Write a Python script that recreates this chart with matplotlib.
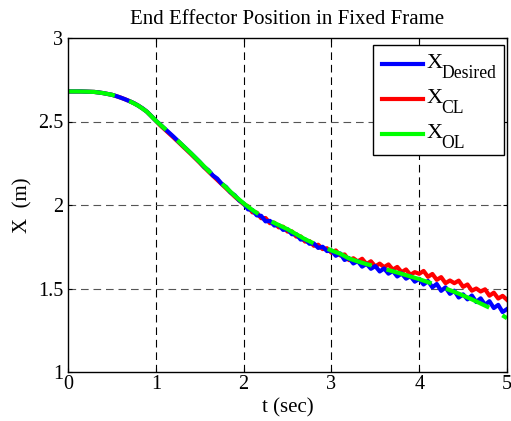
import numpy as np
import matplotlib
matplotlib.use("Agg")
import matplotlib.pyplot as plt
from matplotlib.patches import Rectangle
from matplotlib.lines import Line2D

plt.rcParams['font.family'] = ['Liberation Serif', 'DejaVu Serif']
plt.rcParams['lines.scale_dashes'] = False

# time base
t_fine = np.arange(0, 101) * 0.05
t_coarse = np.arange(0, 51) * 0.1

# desired trajectory (blue)
x_desired = [
    2.680, 2.680, 2.680, 2.680, 2.679, 2.678, 2.677, 2.674, 2.670, 2.665,
    2.660, 2.652, 2.643, 2.633, 2.622, 2.610, 2.595, 2.578, 2.558, 2.532,
    2.505, 2.482, 2.458, 2.434, 2.410, 2.385, 2.360, 2.335, 2.310, 2.284,
    2.258, 2.228, 2.208, 2.177, 2.158, 2.127, 2.108, 2.076, 2.058, 2.027,
    2.010, 1.974, 1.970, 1.938, 1.935, 1.902, 1.905, 1.877, 1.880, 1.851,
    1.855, 1.825, 1.825, 1.793, 1.795, 1.768, 1.770, 1.743, 1.750, 1.724,
    1.728, 1.696, 1.710, 1.671, 1.682, 1.650, 1.664, 1.631, 1.648, 1.618,
    1.634, 1.602, 1.620, 1.589, 1.605, 1.572, 1.590, 1.559, 1.574, 1.541,
    1.558, 1.524, 1.545, 1.507, 1.527, 1.486, 1.507, 1.468, 1.487, 1.446,
    1.465, 1.435, 1.458, 1.419, 1.441, 1.402, 1.424, 1.383, 1.402, 1.359,
    1.377,
]

# closed loop response (red)
x_cl = [
    2.680, 2.680, 2.680, 2.680, 2.679, 2.678, 2.677, 2.674, 2.670, 2.665,
    2.660, 2.652, 2.643, 2.633, 2.622, 2.610, 2.595, 2.578, 2.558, 2.532,
    2.505, 2.477, 2.453, 2.429, 2.405, 2.380, 2.355, 2.330, 2.305, 2.279,
    2.253, 2.226, 2.200, 2.175, 2.150, 2.125, 2.100, 2.075, 2.050, 2.027,
    2.005, 1.992, 1.956, 1.954, 1.921, 1.922, 1.891, 1.894, 1.866, 1.870,
    1.841, 1.842, 1.811, 1.812, 1.781, 1.784, 1.756, 1.762, 1.736, 1.741,
    1.714, 1.728, 1.698, 1.704, 1.670, 1.681, 1.662, 1.678, 1.646, 1.663,
    1.632, 1.649, 1.628, 1.644, 1.613, 1.629, 1.598, 1.614, 1.582, 1.598,
    1.588, 1.605, 1.570, 1.587, 1.552, 1.568, 1.532, 1.548, 1.532, 1.547,
    1.510, 1.524, 1.487, 1.500, 1.482, 1.495, 1.457, 1.475, 1.440, 1.456,
    1.432,
]

# open loop response (green)
x_ol = [
    2.680, 2.680, 2.679, 2.677, 2.670, 2.660, 2.643, 2.622, 2.595, 2.558,
    2.505, 2.458, 2.410, 2.360, 2.310, 2.258, 2.205, 2.155, 2.105, 2.055,
    2.010, 1.970, 1.935, 1.905, 1.880, 1.855, 1.825, 1.795, 1.770, 1.750,
    1.728, 1.708, 1.680, 1.662, 1.646, 1.632, 1.618, 1.603, 1.588, 1.572,
    1.556, 1.538, 1.520, 1.500, 1.480, 1.458, 1.435, 1.410, 1.385, 1.355,
    1.322,
]

series_names = ['Desired', 'CL', 'OL']
series_colors = ['#0000ff', '#ff0000', '#00ff00']

W, H = 511, 421
fig = plt.figure(figsize=(W / 100, H / 100), dpi=100)
ax = fig.add_axes([68 / W, 1 - 372 / H, 439 / W, 334 / H])

# red underneath blue, green dashed on top
ax.plot(t_fine, x_cl, color=series_colors[1], linewidth=3, zorder=2.0)
ax.plot(t_fine, x_desired, color=series_colors[0], linewidth=3, zorder=2.1)
line_ol, = ax.plot(t_coarse, x_ol, color=series_colors[2], linewidth=3, zorder=2.2)
line_ol.set_dashes((34, 11))

ax.set_xlim(0, 5)
ax.set_ylim(1, 3)
ax.set_xticks([0, 1, 2, 3, 4, 5])
ax.set_yticks([1, 1.5, 2, 2.5, 3])
ax.set_yticklabels(['1', '1.5', '2', '2.5', '3'])

# dashed grid: black verticals, grey horizontals
for xv in [1, 2, 3, 4]:
    ax.axvline(xv, color='black', linewidth=0.8, dashes=(5.5, 3.5), zorder=0)
for yv in [1.5, 2, 2.5]:
    ax.axhline(yv, color='#555555', linewidth=0.8, dashes=(5.5, 3.5), zorder=0)

ax.tick_params(direction='in', length=3, width=0.8, top=True, right=True,
               labelsize=14.5)
ax.tick_params(axis='x', pad=2.5)
ax.tick_params(axis='y', pad=3.5)
for s in ax.spines.values():
    s.set_linewidth(1.0)

ax.set_title('End Effector Position in Fixed Frame', fontsize=15, pad=10)
ax.set_xlabel('t (sec)', fontsize=15, labelpad=3)
ax.set_ylabel('X  (m)', fontsize=15, labelpad=4)

# legend box drawn by hand so the subscripts can be sized freely
def fx(px):
    return px / W

def fy(py):
    return 1 - py / H

fig.patches.append(Rectangle((fx(373), fy(155)), 131 / W, 110 / H,
                             transform=fig.transFigure, facecolor='white',
                             edgecolor='black', linewidth=1.0, zorder=5))
for i, (name, col) in enumerate(zip(series_names, series_colors)):
    yh = 64 + 35 * i
    fig.lines.append(Line2D([fx(382), fx(423)], [fy(yh), fy(yh)],
                            transform=fig.transFigure, color=col,
                            linewidth=3, zorder=6))
    fig.text(fx(427), fy(yh + 4), 'X', fontsize=16, va='baseline',
             ha='left', zorder=6)
    fig.text(fx(441), fy(yh + 14), name, fontsize=12.7, va='baseline',
             ha='left', zorder=6)

fig.savefig('out.png', dpi=100)
